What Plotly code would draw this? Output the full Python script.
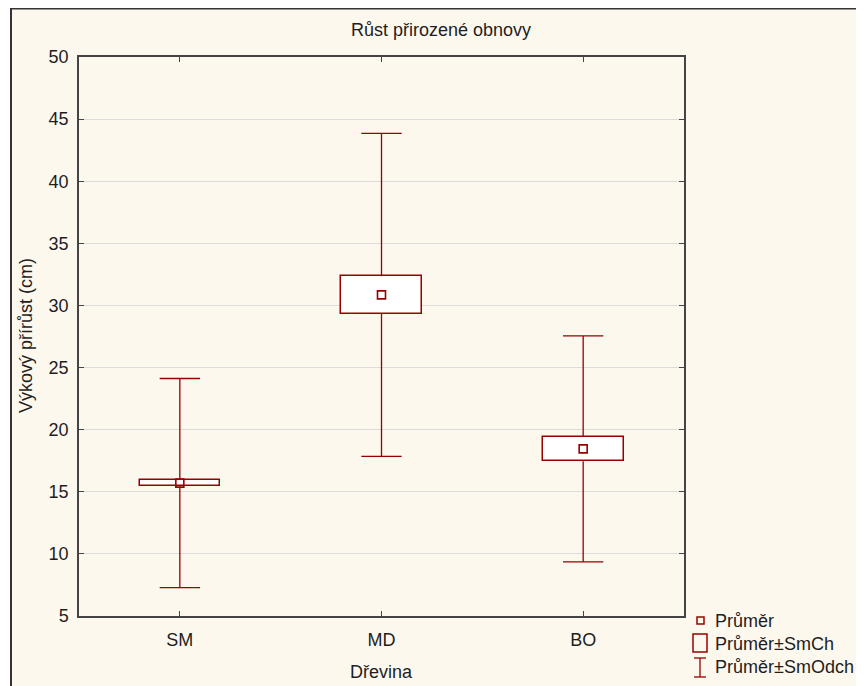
import plotly.graph_objects as go

# ---- data ----
categories = ["SM", "MD", "BO"]
means = [15.7, 30.85, 18.45]
se = [0.27, 1.5, 1.0]          # Průměr ± SmCh
sd = [8.42, 13.0, 9.1]         # Průměr ± SmOdch
y_ticks = [5, 10, 15, 20, 25, 30, 35, 40, 45, 50]

title_text = "Růst přirozené obnovy"
x_title = "Dřevina"
y_title = "Výkový přírůst (cm)"
legend_labels = ["Průměr", "Průměr±SmCh", "Průměr±SmOdch"]

RED = "#980000"
FONT = "Liberation Sans, Arial, sans-serif"
TXT = "#1e1e1e"
FS = 18

xs = list(range(len(categories)))
cap = 0.1
box_w = 0.4

fig = go.Figure()

# boxes (mean ± SE)
fig.add_trace(go.Bar(
    x=xs, y=[2 * s for s in se], base=[m - s for m, s in zip(means, se)],
    width=box_w, marker=dict(color="white", line=dict(color=RED, width=1.5)),
    showlegend=False, hoverinfo="skip"))

# whiskers (mean ± SD), starting at box edges
wx, wy = [], []
for x, m, s, d in zip(xs, means, se, sd):
    wx += [x, x, None, x - cap, x + cap, None, x, x, None, x - cap, x + cap, None]
    wy += [m + s, m + d, None, m + d, m + d, None, m - s, m - d, None, m - d, m - d, None]
fig.add_trace(go.Scatter(x=wx, y=wy, mode="lines", line=dict(color=RED, width=1.3),
                         showlegend=False, hoverinfo="skip"))

# means
fig.add_trace(go.Scatter(x=xs, y=means, mode="markers",
                         marker=dict(symbol="square-open", size=8, color=RED,
                                     line=dict(width=1.6, color=RED)),
                         showlegend=False))

# page offset (body margin) and window-pixel plot box
OFF = 8
WL, WR, WT, WB = 79, 684, 57, 616
W, H = 864 - OFF, 686 - OFF
L, T = WL - OFF, WT - OFF
R, B = W - (WR - OFF), H - (WB - OFF)
pw, ph = WR - WL, WB - WT

def px(x):
    return (x - WL) / pw

def py(y):
    return (WB - y) / ph

shapes = [
    # outer cream frame
    dict(type="rect", xref="paper", yref="paper", x0=px(11), x1=px(880), y0=py(700), y1=py(8.5),
         fillcolor="#fdf8ee", line=dict(color="#333333", width=2), layer="below"),
    # legend: mean marker
    dict(type="rect", xref="paper", yref="paper", x0=px(697), x1=px(704), y0=py(624), y1=py(617),
         line=dict(color=RED, width=1.5), fillcolor="rgba(0,0,0,0)"),
    # legend: box
    dict(type="rect", xref="paper", yref="paper", x0=px(693), x1=px(707), y0=py(652), y1=py(634),
         line=dict(color=RED, width=1.5), fillcolor="rgba(0,0,0,0)"),
    # legend: whisker
    dict(type="line", xref="paper", yref="paper", x0=px(700), x1=px(700), y0=py(677), y1=py(658),
         line=dict(color=RED, width=1.3)),
    dict(type="line", xref="paper", yref="paper", x0=px(694), x1=px(706), y0=py(658), y1=py(658),
         line=dict(color=RED, width=1.3)),
    dict(type="line", xref="paper", yref="paper", x0=px(694), x1=px(706), y0=py(677), y1=py(677),
         line=dict(color=RED, width=1.3)),
]

annotations = []
for lbl, yy in zip(legend_labels, [621, 644, 667]):
    annotations.append(dict(text=lbl, xref="paper", yref="paper", x=px(713), y=py(yy),
                            xanchor="left", yanchor="middle", showarrow=False,
                            font=dict(family=FONT, size=FS, color=TXT)))
annotations.append(dict(text=y_title, xref="paper", yref="paper", x=px(26), y=py(336),
                        textangle=-90, xanchor="center", yanchor="middle", showarrow=False,
                        font=dict(family=FONT, size=FS, color=TXT)))
annotations.append(dict(text=x_title, xref="paper", yref="paper", x=px(381), y=py(672),
                        xanchor="center", yanchor="middle", showarrow=False,
                        font=dict(family=FONT, size=FS, color=TXT)))
annotations.append(dict(text=title_text, xref="paper", yref="paper", x=px(441), y=py(30),
                        xanchor="center", yanchor="middle", showarrow=False,
                        font=dict(family=FONT, size=FS, color=TXT)))

fig.update_layout(
    width=W, height=H,
    margin=dict(l=L, r=R, t=T, b=B, pad=0),
    paper_bgcolor="white", plot_bgcolor="white",
    font=dict(family=FONT, size=FS, color=TXT),
    shapes=shapes, annotations=annotations,
    showlegend=False, bargap=0,
    xaxis=dict(range=[-0.5, 2.5], tickmode="array", tickvals=xs, ticktext=categories,
               showgrid=False, zeroline=False, showline=True, linecolor="#444", linewidth=1.5,
               mirror="ticks", ticks="inside", ticklen=5, tickcolor="#444", tickwidth=1.3,
               ticklabelstandoff=7,
               tickfont=dict(family=FONT, size=FS, color=TXT), fixedrange=True),
    yaxis=dict(range=[5, 50], tickmode="array", tickvals=y_ticks,
               showgrid=True, gridcolor="#dcdcdc", gridwidth=1.2, zeroline=False,
               showline=True, linecolor="#444", linewidth=1.5,
               mirror="ticks", ticks="inside", ticklen=5, tickcolor="#444", tickwidth=1.3,
               ticklabelstandoff=5,
               tickfont=dict(family=FONT, size=FS, color=TXT), fixedrange=True),
)

fig.write_html("out.html")
